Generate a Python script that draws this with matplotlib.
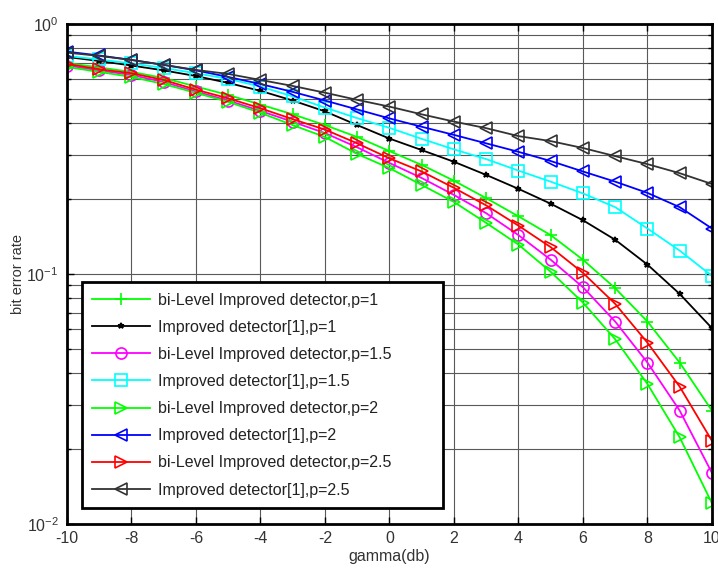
import numpy as np
import matplotlib
matplotlib.use('Agg')
from matplotlib import pyplot as plt
from matplotlib.ticker import LogLocator, NullFormatter, MultipleLocator

plt.rcParams['font.family'] = ['Liberation Sans', 'DejaVu Sans']
plt.rcParams['axes.unicode_minus'] = False

gamma = np.arange(-10, 11)

# bit error rate, one list per curve
bi_p1 = [0.698, 0.670, 0.643, 0.608, 0.562, 0.520, 0.476, 0.435, 0.394, 0.353, 0.310,
         0.273, 0.236, 0.201, 0.170, 0.143, 0.114, 0.0877, 0.0645, 0.0442, 0.0284]
imp_p1 = [0.738, 0.711, 0.682, 0.652, 0.619, 0.581, 0.540, 0.494, 0.447, 0.394, 0.348,
          0.313, 0.281, 0.249, 0.219, 0.191, 0.164, 0.137, 0.109, 0.0832, 0.0607]
bi_p15 = [0.682, 0.652, 0.625, 0.586, 0.537, 0.494, 0.449, 0.406, 0.366, 0.321, 0.278,
          0.242, 0.207, 0.175, 0.143, 0.114, 0.0885, 0.0645, 0.0442, 0.0284, 0.0160]
imp_p15 = [0.745, 0.721, 0.695, 0.667, 0.635, 0.603, 0.562, 0.513, 0.463, 0.420, 0.384,
           0.347, 0.315, 0.288, 0.259, 0.234, 0.210, 0.185, 0.152, 0.124, 0.0982]
bi_p2 = [0.673, 0.643, 0.614, 0.575, 0.530, 0.488, 0.441, 0.394, 0.353, 0.302, 0.265,
         0.227, 0.194, 0.160, 0.131, 0.102, 0.0768, 0.0548, 0.0363, 0.0222, 0.0121]
imp_p2 = [0.775, 0.748, 0.718, 0.686, 0.652, 0.614, 0.575, 0.535, 0.494, 0.455, 0.419,
          0.388, 0.360, 0.333, 0.308, 0.283, 0.257, 0.234, 0.211, 0.185, 0.152]
bi_p25 = [0.692, 0.659, 0.635, 0.597, 0.546, 0.504, 0.460, 0.416, 0.378, 0.333, 0.290,
          0.257, 0.221, 0.188, 0.156, 0.128, 0.101, 0.0759, 0.0531, 0.0354, 0.0215]
imp_p25 = [0.768, 0.745, 0.718, 0.686, 0.655, 0.631, 0.597, 0.565, 0.531, 0.497, 0.467,
           0.435, 0.407, 0.383, 0.356, 0.340, 0.319, 0.296, 0.275, 0.253, 0.229]

curves = [
    (bi_p1, '#00ff00', '+', 'bi-Level Improved detector,p=1'),
    (imp_p1, 'black', '*', 'Improved detector[1],p=1'),
    (bi_p15, '#ff00ff', 'o', 'bi-Level Improved detector,p=1.5'),
    (imp_p15, '#00ffff', 's', 'Improved detector[1],p=1.5'),
    (bi_p2, '#00ff00', '>', 'bi-Level Improved detector,p=2'),
    (imp_p2, '#0000ff', '<', 'Improved detector[1],p=2'),
    (bi_p25, '#ff0000', '>', 'bi-Level Improved detector,p=2.5'),
    (imp_p25, '#333333', '<', 'Improved detector[1],p=2.5'),
]

fig = plt.figure(figsize=(7.18, 5.68), dpi=100)
ax = fig.add_axes([0.0933, 0.0775, 0.8983, 0.8803])

for vals, col, mk, lab in curves:
    ms = 4 if mk == '*' else 8
    ax.semilogy(gamma, vals, color=col, marker=mk, markersize=ms, markerfacecolor='none',
                markeredgewidth=1.2, linewidth=1.3, label=lab)

ax.set_xlim(-10, 10)
ax.set_ylim(1e-2, 1)
ax.xaxis.set_major_locator(MultipleLocator(2))
ax.yaxis.set_major_locator(LogLocator(base=10))
ax.yaxis.set_minor_locator(LogLocator(base=10, subs=np.arange(2, 10)))
ax.yaxis.set_minor_formatter(NullFormatter())

ax.grid(True, which='major', axis='x', color='0.35', linewidth=0.8)
ax.grid(True, which='both', axis='y', color='0.35', linewidth=0.8)
ax.set_axisbelow(True)

ax.tick_params(which='both', direction='in', top=True, right=True, labelsize=11.5,
               labelcolor='#333333')
ax.tick_params(axis='x', pad=5)
ax.tick_params(axis='y', pad=6)
ax.tick_params(which='major', length=5, width=1)
ax.tick_params(which='minor', length=3, width=1)
for sp in ax.spines.values():
    sp.set_linewidth(2)

ax.set_xlabel('gamma(db)', fontsize=11.5, color='#333333', labelpad=2)
ax.set_ylabel('bit error rate', fontsize=10.5, color='#333333', labelpad=1)

leg = ax.legend(loc='lower left', bbox_to_anchor=(0.023, 0.032, 0.56, 0.454),
                mode='expand', borderaxespad=0,
                fontsize=11.5, labelspacing=0.76, handlelength=3.6, handletextpad=0.55,
                fancybox=False, framealpha=1, borderpad=0.65)
leg.get_frame().set_edgecolor('black')
leg.get_frame().set_linewidth(2)
for t in leg.get_texts():
    t.set_color('#222222')

fig.savefig('out.png', dpi=100)
